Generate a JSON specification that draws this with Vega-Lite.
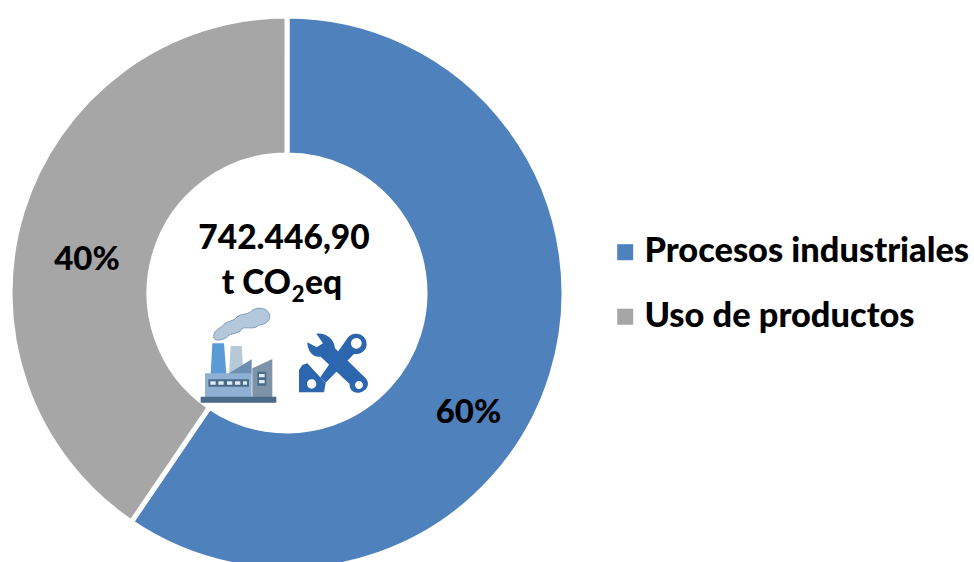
{"$schema":"https://vega.github.io/schema/vega-lite/v6.json","width":974,"height":562,"padding":0,"autosize":{"type":"fit","contains":"padding"},"background":"white","config":{"view":{"stroke":null},"font":"Lato"},"datasets":{"d":[{"cat":"Procesos industriales","v":59.5,"label":"60%"},{"cat":"Uso de productos","v":40.5,"label":"40%"}],"one":[{"k":"icon"}]},"layer":[{"data":{"name":"d"},"mark":{"type":"arc","innerRadius":138,"outerRadius":277,"stroke":"white","strokeWidth":5,"x":287,"y":293},"encoding":{"theta":{"field":"v","type":"quantitative","stack":true,"scale":{"domain":[0,100],"range":[0,6.2832]}},"color":{"field":"cat","type":"nominal","scale":{"domain":["Procesos industriales","Uso de productos"],"range":["#4F81BD","#A6A6A6"]},"legend":{"title":null,"orient":"none","legendX":608,"legendY":235,"symbolType":"square","symbolSize":256,"symbolStrokeWidth":0,"symbolOpacity":1,"labelFont":"Lato","labelFontSize":34.4,"labelFontWeight":900,"labelColor":"black","labelLimit":400,"labelOffset":2,"rowPadding":29.5,"padding":0}},"order":{"field":"cat"}}},{"data":{"name":"d"},"transform":[{"filter":"datum.label==='60%'"}],"mark":{"type":"text","fontSize":33,"fontWeight":900,"font":"Lato","color":"black","x":468.5,"y":413},"encoding":{"text":{"field":"label"}}},{"data":{"name":"d"},"transform":[{"filter":"datum.label==='40%'"}],"mark":{"type":"text","fontSize":33,"fontWeight":900,"font":"Lato","color":"black","x":87,"y":260},"encoding":{"text":{"field":"label"}}},{"data":{"values":[{"t":"742.446,90"}]},"mark":{"type":"text","fontSize":33.5,"fontWeight":900,"font":"Lato","color":"black","x":284,"y":239},"encoding":{"text":{"field":"t"}}},{"data":{"values":[{"t":"t CO"}]},"mark":{"type":"text","align":"right","fontSize":33.5,"fontWeight":900,"font":"Lato","color":"black","x":291,"y":284},"encoding":{"text":{"field":"t"}}},{"data":{"values":[{"t":"2"}]},"mark":{"type":"text","fontSize":22,"fontWeight":900,"font":"Lato","color":"black","x":298,"y":295},"encoding":{"text":{"field":"t"}}},{"data":{"values":[{"t":"eq"}]},"mark":{"type":"text","align":"left","fontSize":33.5,"fontWeight":900,"font":"Lato","color":"black","x":305,"y":284},"encoding":{"text":{"field":"t"}}},{"data":{"name":"one"},"mark":{"type":"point","filled":true,"opacity":1,"x":179,"y":210,"size":0.4444,"fill":"#B4C8DC","stroke":"#7F9BB8","strokeWidth":1,"shape":"M105 385 C100 370 115 355 130 350 C135 335 160 335 170 325 C180 310 205 315 215 305 C230 290 265 290 272 315 C275 335 255 345 240 345 C225 360 205 350 190 355 C185 370 160 370 150 375 C140 390 110 395 105 385 Z"},"encoding":{}},{"data":{"name":"one"},"mark":{"type":"point","filled":true,"opacity":1,"x":179,"y":210,"size":0.4444,"fill":"#5B9BD5","strokeWidth":0,"shape":"M100 400 L135 400 L142 492 L95 492 Z"},"encoding":{}},{"data":{"name":"one"},"mark":{"type":"point","filled":true,"opacity":1,"x":179,"y":210,"size":0.4444,"fill":"#B7C9D6","strokeWidth":0,"shape":"M155 408 L188 408 L192 470 L150 492 Z"},"encoding":{}},{"data":{"name":"one"},"mark":{"type":"point","filled":true,"opacity":1,"x":179,"y":210,"size":0.4444,"fill":"#6C8EB0","strokeWidth":0,"shape":"M150 490 L218 448 L218 495 L150 495 Z"},"encoding":{}},{"data":{"name":"one"},"mark":{"type":"point","filled":true,"opacity":1,"x":179,"y":210,"size":0.4444,"fill":"#8FB0D3","strokeWidth":0,"shape":"M78 490 L218 490 L218 562 L78 562 Z"},"encoding":{}},{"data":{"name":"one"},"mark":{"type":"point","filled":true,"opacity":1,"x":179,"y":210,"size":0.4444,"fill":"#7F93A8","strokeWidth":0,"shape":"M220 475 L280 447 L280 562 L220 562 Z"},"encoding":{}},{"data":{"name":"one"},"mark":{"type":"point","filled":true,"opacity":1,"x":179,"y":210,"size":0.4444,"fill":"#4A6A8A","strokeWidth":0,"shape":"M65 560 L292 560 L292 578 L65 578 Z M235 485 L262 485 L262 527 L235 527 Z M88 508 L210 508 L210 530 L88 530 Z"},"encoding":{}},{"data":{"name":"one"},"mark":{"type":"point","filled":true,"opacity":1,"x":179,"y":210,"size":0.4444,"fill":"#DCEBF5","strokeWidth":0,"shape":"M94 514 L110 514 L110 524 L94 524 Z M118 514 L134 514 L134 524 L118 524 Z M144 514 L160 514 L160 524 L144 524 Z M168 514 L184 514 L184 524 L168 524 Z M192 514 L204 514 L204 524 L192 524 Z M240 492 L257 492 L257 502 L240 502 Z M240 510 L257 510 L257 520 L240 520 Z"},"encoding":{}},{"data":{"name":"one"},"mark":{"type":"point","filled":true,"opacity":1,"x":179,"y":210,"size":0.4444,"fill":"#2B66AE","strokeWidth":0,"shape":"M505 385 C515 365 555 365 562 395 C568 420 545 435 525 432 L440 518 L424 502 Z M412 371 C440 368 465 385 468 415 L560 505 C575 520 565 545 540 548 C520 550 510 535 512 522 L425 440 C400 445 385 420 385 397 L413 412 L432 400 Z M370 465 L385 460 L440 520 L435 547 L360 547 L360 480 Z"},"encoding":{}},{"data":{"name":"one"},"mark":{"type":"point","filled":true,"opacity":1,"x":179,"y":210,"size":0.4444,"fill":"white","strokeWidth":0,"shape":"M516 400 A16 16 0 1 0 548 400 A16 16 0 1 0 516 400 Z M528 525 A12 12 0 1 0 552 525 A12 12 0 1 0 528 525 Z M384 522 A14 14 0 1 0 412 522 A14 14 0 1 0 384 522 Z"},"encoding":{}}]}
